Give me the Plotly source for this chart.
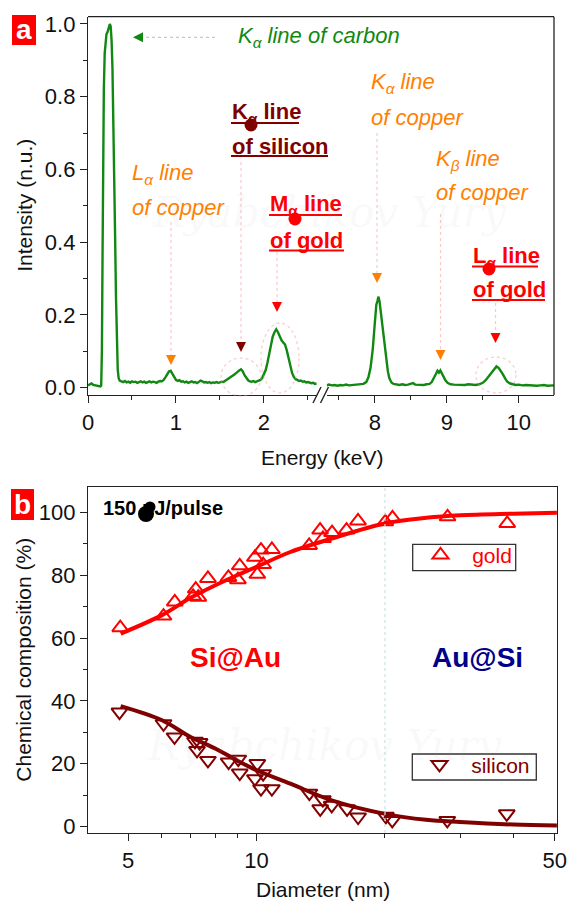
import plotly.graph_objects as go

# ---------------- data: EDX spectrum (panel a) ----------------
spec_left_e = [0.00, 0.02, 0.04, 0.06, 0.08, 0.10, 0.12, 0.14, 0.150, 0.158, 0.165, 0.172, 0.180, 0.190,
               0.200, 0.210, 0.222, 0.235, 0.248, 0.258, 0.268, 0.278, 0.288, 0.298, 0.308, 0.318, 0.328,
               0.338, 0.348, 0.36, 0.38, 0.40, 0.42, 0.44, 0.46, 0.48, 0.50, 0.52, 0.54, 0.56, 0.58, 0.60,
               0.62, 0.64, 0.66, 0.68, 0.70, 0.72, 0.74, 0.76, 0.78, 0.80, 0.82, 0.84, 0.86, 0.88, 0.90,
               0.92, 0.94, 0.96, 0.98, 1.00, 1.02, 1.04, 1.06, 1.08, 1.10, 1.12, 1.14, 1.16, 1.18, 1.20,
               1.22, 1.24, 1.26, 1.28, 1.30, 1.32, 1.34, 1.36, 1.38, 1.40, 1.42, 1.44, 1.46, 1.48, 1.50,
               1.52, 1.54, 1.56, 1.58, 1.60, 1.62, 1.64, 1.66, 1.68, 1.70, 1.72, 1.74, 1.76, 1.78, 1.80,
               1.82, 1.84, 1.86, 1.88, 1.90, 1.92, 1.94, 1.96, 1.98, 2.00, 2.02, 2.04, 2.06, 2.08, 2.10,
               2.12, 2.14, 2.16, 2.18, 2.20, 2.22, 2.24, 2.26, 2.28, 2.30, 2.32, 2.34, 2.36, 2.38, 2.40,
               2.42, 2.44, 2.46, 2.48, 2.50, 2.52, 2.54, 2.56, 2.58, 2.60]
spec_left_i = [0.006, 0.008, 0.011, 0.007, 0.006, 0.005, 0.004, 0.003, 0.005, 0.10, 0.35, 0.62, 0.82, 0.92,
               0.96, 0.972, 0.978, 0.992, 1.000, 0.993, 0.955, 0.88, 0.76, 0.60, 0.42, 0.25, 0.12,
               0.05, 0.026, 0.019, 0.017, 0.015, 0.018, 0.014, 0.016, 0.013, 0.017, 0.015, 0.016, 0.013, 0.015, 0.017,
               0.014, 0.016, 0.013, 0.015, 0.017, 0.014, 0.016, 0.015, 0.013, 0.016, 0.018, 0.017, 0.021, 0.028, 0.036,
               0.044, 0.046, 0.038, 0.027, 0.021, 0.018, 0.020, 0.016, 0.017, 0.014, 0.016, 0.013, 0.015, 0.017, 0.014,
               0.015, 0.012, 0.016, 0.019, 0.017, 0.014, 0.015, 0.013, 0.015, 0.012, 0.014, 0.013, 0.015, 0.013, 0.014,
               0.016, 0.015, 0.018, 0.021, 0.024, 0.027, 0.031, 0.035, 0.039, 0.044, 0.047, 0.050, 0.044, 0.034, 0.025,
               0.020, 0.017, 0.016, 0.018, 0.015, 0.017, 0.019, 0.021, 0.026, 0.035, 0.048, 0.068, 0.094, 0.120, 0.140,
               0.152, 0.160, 0.152, 0.138, 0.130, 0.124, 0.118, 0.102, 0.080, 0.058, 0.040, 0.029, 0.023, 0.021, 0.018,
               0.019, 0.016, 0.017, 0.014, 0.015, 0.013, 0.012, 0.013, 0.010, 0.011]

spec_right_e = [7.33, 7.36, 7.40, 7.44, 7.48, 7.52, 7.56, 7.60, 7.64, 7.68, 7.72, 7.76, 7.80, 7.84, 7.88,
                7.91, 7.94, 7.97, 8.00, 8.02, 8.035, 8.05, 8.065, 8.08, 8.10, 8.12, 8.14, 8.16, 8.18, 8.20,
                8.23, 8.26, 8.30, 8.34, 8.38, 8.42, 8.46, 8.50, 8.53, 8.56, 8.60, 8.64, 8.68, 8.72, 8.76,
                8.79, 8.82, 8.85, 8.87, 8.89, 8.91, 8.93, 8.95, 8.98, 9.01, 9.05, 9.10, 9.15, 9.20, 9.25,
                9.30, 9.35, 9.40, 9.45, 9.50, 9.54, 9.58, 9.62, 9.66, 9.69, 9.72, 9.75, 9.78, 9.81, 9.84,
                9.88, 9.92, 9.96, 10.00, 10.05, 10.10, 10.15, 10.20, 10.25, 10.30, 10.35, 10.40, 10.45, 10.49]
spec_right_i = [0.006, 0.008, 0.006, 0.007, 0.005, 0.007, 0.006, 0.008, 0.006, 0.007, 0.008, 0.007, 0.009, 0.010, 0.015,
                0.028, 0.055, 0.105, 0.180, 0.228, 0.238, 0.250, 0.236, 0.212, 0.178, 0.140, 0.105, 0.072, 0.045, 0.026,
                0.014, 0.010, 0.008, 0.007, 0.009, 0.007, 0.008, 0.011, 0.012, 0.008, 0.007, 0.008, 0.007, 0.009, 0.010,
                0.015, 0.025, 0.038, 0.046, 0.041, 0.047, 0.038, 0.030, 0.020, 0.013, 0.009, 0.008, 0.007, 0.008, 0.007,
                0.009, 0.008, 0.007, 0.009, 0.013, 0.020, 0.030, 0.042, 0.052, 0.058, 0.054, 0.046, 0.036, 0.025, 0.016,
                0.011, 0.008, 0.007, 0.008, 0.006, 0.007, 0.006, 0.007, 0.005, 0.006, 0.007, 0.005, 0.006, 0.006]

# ---------------- data: composition vs diameter (panel b) ----------------
diam_gold = [4.79, 6.05, 6.43, 7.10, 7.20, 7.30, 7.69, 8.59, 9.04, 9.13, 9.91, 10.04, 10.24, 10.36, 10.86,
             13.28, 14.09, 14.31, 15.03, 16.25, 17.29, 20.03, 20.83, 28.04, 38.7]
comp_gold = [63.3, 67.0, 71.5, 73.3, 75.6, 73.0, 79.0, 79.3, 78.6, 83.0, 85.7, 80.3, 88.0, 83.4, 88.2,
             89.5, 94.4, 91.7, 93.6, 94.4, 97.3, 97.0, 98.3, 98.6, 96.5]
diam_si = [4.77, 6.05, 6.42, 7.17, 7.35, 7.25, 7.69, 8.60, 9.06, 9.13, 9.91, 10.04, 10.24, 10.36, 10.86,
           13.3, 14.1, 14.3, 15.0, 16.3, 17.3, 20.1, 20.8, 28.0, 38.6]
comp_si = [36.4, 32.7, 28.5, 27.1, 26.7, 24.2, 21.0, 20.5, 21.4, 17.0, 15.2, 20.0, 12.0, 16.8, 12.0,
           10.6, 5.6, 8.5, 6.7, 5.6, 3.0, 3.2, 1.9, 1.9, 4.0]
fit_d = [4.8, 6, 7, 8, 9, 10, 12, 15, 20, 25, 30, 40, 50.6]
fit_gold = [61.4, 67.3, 72.8, 76.8, 80.0, 82.7, 87.4, 91.7, 96.5, 98.3, 99.1, 99.6, 99.9]
fit_si = [38.3, 33.8, 28.5, 24.8, 21.0, 17.9, 13.6, 8.3, 4.0, 2.1, 1.4, 0.6, 0.3]

energy_ticks_left = [0, 1, 2]
energy_ticks_right = [8, 9, 10]
intensity_ticks = [0.0, 0.2, 0.4, 0.6, 0.8, 1.0]
diam_ticks = [5, 10, 50]
comp_ticks = [0, 20, 40, 60, 80, 100]

# ---------------- style ----------------
FONT = "Liberation Sans, Arial, sans-serif"
GREEN = "#118811"
ORANGE = "#FF8000"
DARKRED = "#800000"
RED = "#FF0000"
NAVY = "#00008B"
AX = "#222222"
NB = "\u00a0"

W, H = 567, 903
ML, MR, MT, MB = 88, 10, 16, 70
PW, PH = W - ML - MR, H - MT - MB


def px(x):
    return (x - ML) / PW


def py(y):
    return (H - MB - y) / PH


fig = go.Figure()

fig.add_trace(go.Scatter(x=spec_left_e, y=spec_left_i, mode="lines", xaxis="x", yaxis="y",
                         line=dict(color=GREEN, width=2.4), showlegend=False))
fig.add_trace(go.Scatter(x=spec_right_e, y=spec_right_i, mode="lines", xaxis="x3", yaxis="y",
                         line=dict(color=GREEN, width=2.4), showlegend=False))

fig.add_trace(go.Scatter(x=fit_d, y=fit_gold, mode="lines", xaxis="x2", yaxis="y2",
                         line=dict(color=RED, width=4, shape="spline"), showlegend=False))
fig.add_trace(go.Scatter(x=fit_d, y=fit_si, mode="lines", xaxis="x2", yaxis="y2",
                         line=dict(color=DARKRED, width=4, shape="spline"), showlegend=False))
fig.add_trace(go.Scatter(x=diam_gold, y=comp_gold, mode="markers", xaxis="x2", yaxis="y2", name=NB * 2 + "gold",
                         marker=dict(symbol="triangle-up-open", size=14, color=RED, line=dict(width=2)),
                         legend="legend"))
fig.add_trace(go.Scatter(x=diam_si, y=comp_si, mode="markers", xaxis="x2", yaxis="y2", name=NB * 2 + "silicon",
                         marker=dict(symbol="triangle-down-open", size=14, color=DARKRED, line=dict(width=2)),
                         legend="legend2"))

tick_common = dict(ticks="outside", ticklen=7, tickwidth=1.3, tickcolor=AX, showline=True, linecolor=AX,
                   linewidth=1.3, showgrid=False, zeroline=False, automargin=False,
                   tickfont=dict(size=22, color="#111"))

fig.update_layout(
    width=W, height=H, margin=dict(l=ML, r=MR, t=MT, b=MB, autoexpand=False),
    paper_bgcolor="white", plot_bgcolor="white",
    font=dict(family=FONT, size=21, color="#111"),
    xaxis=dict(domain=[0, px(316.7)], range=[0, 2.6], anchor="y", tickmode="array",
               tickvals=energy_ticks_left,
               minor=dict(tickvals=[0.5, 1.5, 2.5], ticks="outside", ticklen=4, tickcolor=AX), **tick_common),
    xaxis3=dict(domain=[px(326.7), px(554)], range=[7.33, 10.49], anchor="y", tickmode="array",
                tickvals=energy_ticks_right,
                minor=dict(tickvals=[7.5, 8.5, 9.5], ticks="outside", ticklen=4, tickcolor=AX), **tick_common),
    yaxis=dict(domain=[py(395), py(16.7)], range=[-0.0206, 1.02], anchor="x", tickmode="array",
               tickvals=intensity_ticks, ticktext=["%.1f" % v for v in intensity_ticks],
               minor=dict(tickvals=[0.1, 0.3, 0.5, 0.7, 0.9], ticks="outside", ticklen=4, tickcolor=AX),
               **tick_common),
    xaxis2=dict(domain=[0, 1], type="log", range=[0.6047, 1.7044], anchor="y2", tickmode="array",
                tickvals=diam_ticks, ticktext=[str(v) for v in diam_ticks], mirror=True,
                minor=dict(tickvals=[4, 6, 7, 8, 9, 20, 30, 40], ticks="outside", ticklen=4, tickcolor=AX),
                **tick_common),
    yaxis2=dict(domain=[0, py(486.7)], range=[-2.1, 108.2], anchor="x2", tickmode="array",
                tickvals=comp_ticks, mirror=True,
                minor=dict(tickvals=[10, 30, 50, 70, 90], ticks="outside", ticklen=4, tickcolor=AX),
                **tick_common),
    legend=dict(x=px(420.5), y=py(534.8), xanchor="left", yanchor="top", borderwidth=0,
                bgcolor="rgba(255,255,255,0)", font=dict(size=21, color=RED)),
    legend2=dict(x=px(419.5), y=py(744.3), xanchor="left", yanchor="top", borderwidth=0,
                 bgcolor="rgba(255,255,255,0)", font=dict(size=21, color=DARKRED)),
)

shapes = []
# frame of panel a (top and right lines)
shapes.append(dict(type="line", xref="paper", yref="paper", x0=px(88), x1=px(554), y0=py(16.7), y1=py(16.7),
                   line=dict(color=AX, width=1.3)))
shapes.append(dict(type="line", xref="paper", yref="paper", x0=px(554), x1=px(554), y0=py(395), y1=py(16.7),
                   line=dict(color=AX, width=1.3)))
# axis break marks
for x0 in (313.0, 320.5):
    shapes.append(dict(type="line", xref="paper", yref="paper", x0=px(x0), x1=px(x0 + 8), y0=py(403), y1=py(387),
                       line=dict(color=AX, width=1.4)))
# panel letters
shapes.append(dict(type="rect", xref="paper", yref="paper", x0=px(12), x1=px(36), y0=py(45), y1=py(15),
                   fillcolor=RED, line=dict(width=0)))
shapes.append(dict(type="rect", xref="paper", yref="paper", x0=px(11), x1=px(34), y0=py(520), y1=py(489),
                   fillcolor=RED, line=dict(width=0)))
# legend frames
shapes.append(dict(type="rect", xref="paper", yref="paper", x0=px(412.7), x1=px(515.7), y0=py(570.7), y1=py(544.3),
                   line=dict(color="#333", width=1.3)))
shapes.append(dict(type="rect", xref="paper", yref="paper", x0=px(412.3), x1=px(536.3), y0=py(780), y1=py(754),
                   line=dict(color="#333", width=1.3)))
# faint dotted guides
GUIDE = "rgba(240,160,160,0.55)"
for (x, y0, y1) in [(171, 222, 356), (241, 162, 342), (277, 252, 302), (377, 133, 273), (440.5, 214, 350),
                    (495.5, 303, 334)]:
    shapes.append(dict(type="line", xref="paper", yref="paper", x0=px(x), x1=px(x), y0=py(y0), y1=py(y1),
                       line=dict(color=GUIDE, width=1.2, dash="dot")))
shapes.append(dict(type="line", xref="paper", yref="paper", x0=px(140), x1=px(217), y0=py(37.3), y1=py(37.3),
                   line=dict(color="rgba(120,180,120,0.55)", width=1.2, dash="dot")))
for (cx, cy, rx, ry) in [(241, 377, 20, 19), (280, 358, 19, 35), (496, 375, 20, 18)]:
    shapes.append(dict(type="circle", xref="paper", yref="paper", x0=px(cx - rx), x1=px(cx + rx),
                       y0=py(cy + ry), y1=py(cy - ry), line=dict(color="rgba(240,150,150,0.45)", width=1.3, dash="dot")))
# vertical dotted line at 20 nm
shapes.append(dict(type="line", xref="x2", yref="y2 domain", x0=20, x1=20, y0=0, y1=1,
                   line=dict(color="#cfe2e2", width=1.2, dash="dot")))
# underlines of the bold labels
for (x0, x1, y, col) in [(231, 299, 123, DARKRED), (231, 328, 156, DARKRED), (269, 342, 215, RED),
                         (269, 344, 250.5, RED), (472, 538, 266.5, RED), (472, 545, 300, RED)]:
    shapes.append(dict(type="line", xref="paper", yref="paper", x0=px(x0), x1=px(x1), y0=py(y), y1=py(y),
                       line=dict(color=col, width=2.2)))
# blobs covering subscripts
for (cx, cy, r, col) in [(251, 125, 6.5, DARKRED), (295, 219, 6.5, RED), (489, 269, 6.5, RED),
                         (146, 514, 8, "black"), (150, 507, 5.5, "black")]:
    shapes.append(dict(type="circle", xref="paper", yref="paper", x0=px(cx - r), x1=px(cx + r),
                       y0=py(cy + r), y1=py(cy - r), fillcolor=col, line=dict(width=0), layer="above"))
fig.update_layout(shapes=shapes)

ann = []


def text(x, y, t, size=22, color="#111", xanchor="left", angle=0, family=FONT):
    ann.append(dict(x=px(x), y=py(y), xref="paper", yref="paper", text=t, showarrow=False, xanchor=xanchor,
                    yanchor="middle", textangle=angle, font=dict(size=size, color=color, family=family)))


text(12 + 12, 30, "<b>a</b>", size=28, color="white", xanchor="center")
text(11 + 11.5, 504, "<b>b</b>", size=28, color="white", xanchor="center")

text(236, 37, "<i>K<sub>α</sub> line of carbon</i>", color=GREEN)
text(369, 83, "<i>K<sub>α</sub> line</i>", color=ORANGE)
text(369, 117, "<i>of copper</i>", color=ORANGE)
text(130, 174, "<i>L<sub>α</sub> line</i>", color=ORANGE)
text(130, 208, "<i>of copper</i>", color=ORANGE)
text(434, 160, "<i>K<sub>β</sub> line</i>", color=ORANGE)
text(434, 193, "<i>of copper</i>", color=ORANGE)
text(230, 113, "<b>K<sub>α</sub> line</b>", color=DARKRED)
text(230, 146, "<b>of silicon</b>", color=DARKRED)
text(268, 205, "<b>M<sub>α</sub> line</b>", color=RED)
text(268, 240, "<b>of gold</b>", color=RED)
text(471, 256.5, "<b>L<sub>α</sub> line</b>", color=RED)
text(471, 290, "<b>of gold</b>", color=RED)

text(322, 458, "Energy (keV)", size=21, xanchor="center")
text(25, (16.7 + 395) / 2, "Intensity (n.u.)", size=21, xanchor="center", angle=-90)
text(323, 889, "Diameter (nm)", size=21, xanchor="center")
text(24, (486.7 + 832.7) / 2, "Chemical composition (%)", size=21, xanchor="center", angle=-90)

text(100.5, 508, "<b>150 μJ/pulse</b>", size=20, color="black")
text(235, 657, "<b>Si@Au</b>", size=28, color=RED, xanchor="center")
text(477, 657, "<b>Au@Si</b>", size=28, color=NAVY, xanchor="center")

# watermark
text(330, 212, "<i>Ryabchikov Yury</i>", size=42, color="rgba(170,170,170,0.08)", xanchor="center",
     family="DejaVu Serif, serif")
text(325, 745, "<i>Ryabchikov Yury</i>", size=42, color="rgba(170,170,170,0.08)", xanchor="center",
     family="DejaVu Serif, serif")

# arrowheads
for (x, y, col) in [(171, 365, ORANGE), (241, 352, DARKRED), (277, 312, RED), (377, 283, ORANGE),
                    (440.5, 360, ORANGE), (495.5, 343, RED)]:
    ann.append(dict(x=px(x), y=py(y), xref="paper", yref="paper", text="", showarrow=True, ax=0, ay=-9,
                    arrowhead=2, arrowsize=1, arrowwidth=2, arrowcolor=col))
ann.append(dict(x=px(133), y=py(37.3), xref="paper", yref="paper", text="", showarrow=True, ax=9, ay=0,
                arrowhead=2, arrowsize=1, arrowwidth=2, arrowcolor=GREEN))

fig.update_layout(annotations=ann)
fig.write_html("out.html", config={"displayModeBar": False})

# remove the browser's default page margin so the figure sits at the window origin
with open("out.html", encoding="utf-8") as f:
    html = f.read()
html = html.replace("<head>", "<head><style>html,body{margin:0;padding:0;overflow:hidden;}</style>", 1)
with open("out.html", "w", encoding="utf-8") as f:
    f.write(html)
